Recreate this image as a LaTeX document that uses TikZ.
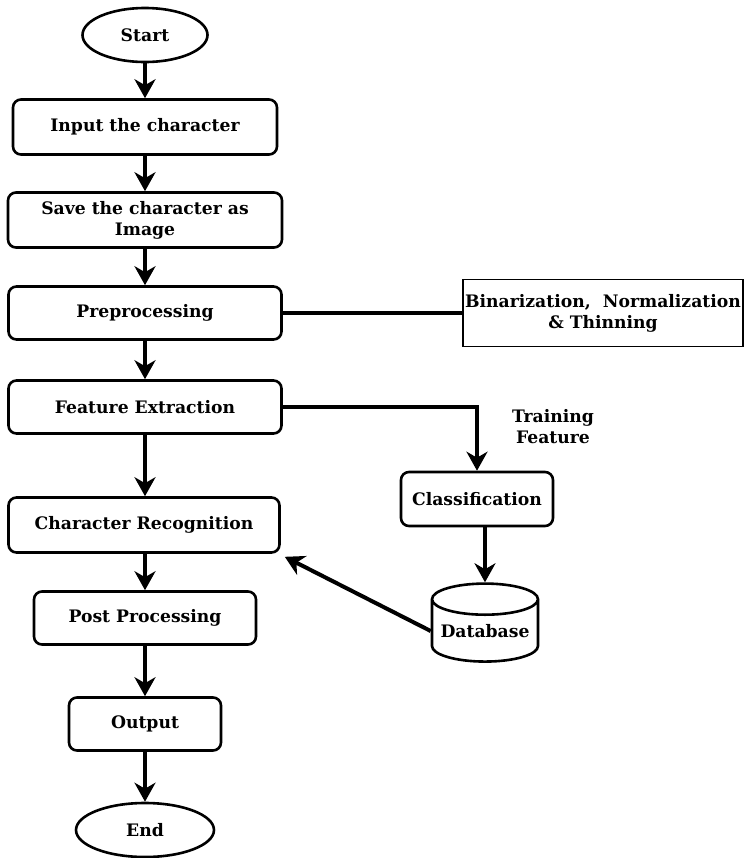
\documentclass[tikz,border=0pt]{standalone}
\usepackage{fontspec}
\setmainfont{DejaVu Serif}
\usetikzlibrary{arrows.meta,shapes.geometric}

\begin{document}
\begin{tikzpicture}[x=0.5pt, y=-0.5pt, font=\fontsize{8.6}{10.5}\selectfont\bfseries,
  box/.style={draw, line width=1.3pt, rounded corners=4pt, align=center, inner sep=1pt},
  term/.style={draw, ellipse, line width=1.3pt, inner sep=0pt},
  arr/.style={-{Stealth[length=9.5pt,width=10.5pt,inset=3pt]}, line width=2pt}]
\useasboundingbox (0,0) rectangle (744,858);

\node[term, minimum width=62.5pt, minimum height=27pt] (start) at (145,35) {Start};
\node[box, minimum width=132pt, minimum height=27.5pt] (input) at (145,127) {Input the character};
\node[box, minimum width=137pt, minimum height=27.5pt] (save) at (145,220) {Save the character as\\Image};
\node[box, minimum width=136.5pt, minimum height=26.5pt] (pre) at (145,313) {Preprocessing};
\node[box, minimum width=136.5pt, minimum height=26.5pt] (feat) at (145,407) {Feature Extraction};
\node[box, minimum width=135.5pt, minimum height=27.5pt] (crec) at (144,525) {Character Recognition};
\node[box, minimum width=111pt, minimum height=26.5pt] (post) at (145,618) {Post Processing};
\node[box, minimum width=76pt, minimum height=26.5pt] (out) at (145,724) {Output};
\node[term, minimum width=69pt, minimum height=27pt] (end) at (145,830) {End};

\node[draw, line width=0.8pt, align=center, minimum width=140pt, minimum height=33.5pt,
  inner sep=1pt] (bin) at (603,313) {Binarization,\ \ Normalization\\\& Thinning};
\node[align=center, inner sep=0pt] (train) at (553,427) {Training\\Feature};
\node[box, minimum width=76pt, minimum height=27pt] (class) at (477,499) {Classification};
\node[draw, cylinder, shape border rotate=90, aspect=0.35, line width=1.3pt,
  minimum width=53pt, minimum height=39pt, inner sep=0pt] (db) at (485,631) {Database};

% main flow
\draw[arr] (start) -- (input);
\draw[arr] (input) -- (save);
\draw[arr] (save) -- (pre);
\draw[arr] (pre) -- (feat);
\draw[arr] (feat.south) -- (feat.south |- crec.north);
\draw[arr] (crec.south -| post.north) -- (post.north);
\draw[arr] (post) -- (out);
\draw[arr] (out) -- (end);

% side branch
\draw[line width=1.6pt] (pre.east) -- (bin.west);
\draw[arr, line width=1.6pt] (feat.east) -| (class.north);
\draw[arr] (db.north |- class.south) -- (db.north);
\draw[arr] (db.west) -- ([xshift=2pt,yshift=-1.5pt]crec.south east);

\end{tikzpicture}
\end{document}
